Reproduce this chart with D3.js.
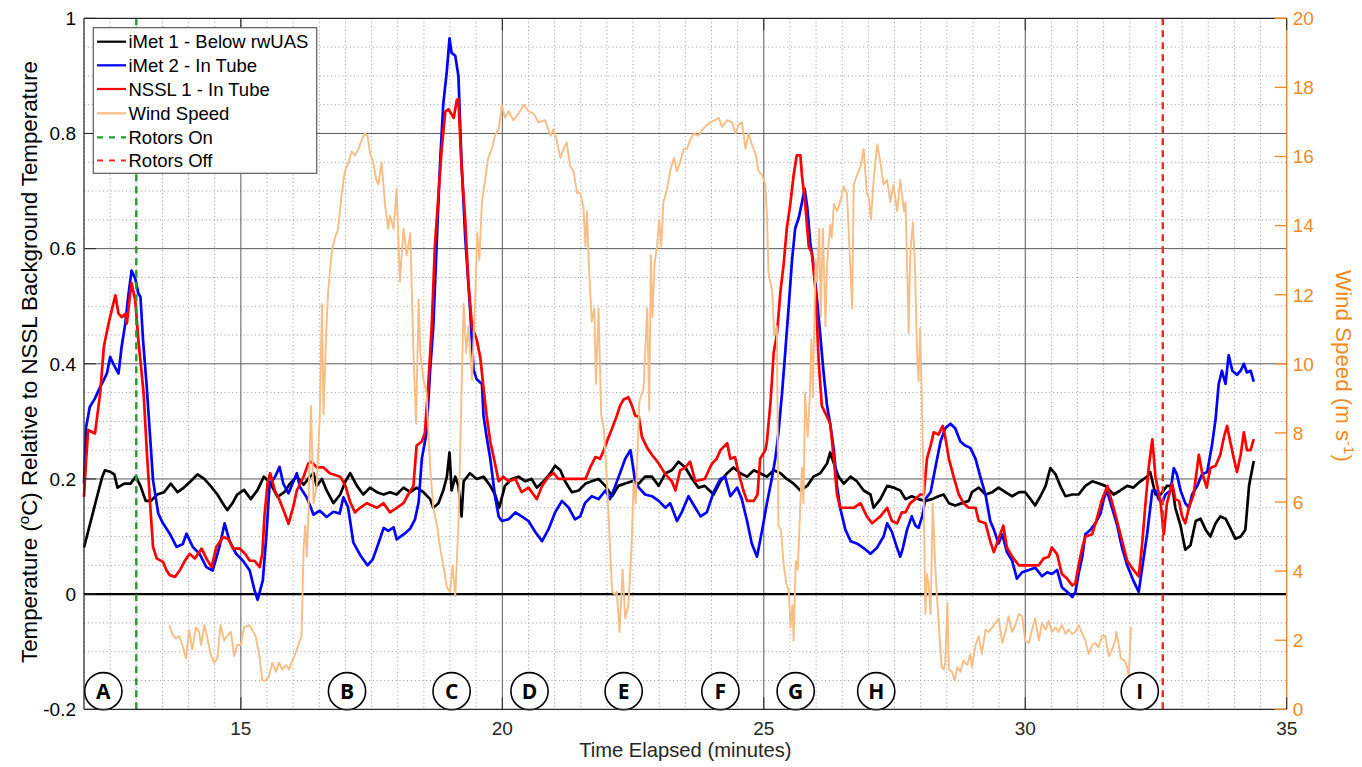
<!DOCTYPE html>
<html><head><meta charset="utf-8">
<script src="https://cdn.jsdelivr.net/npm/d3@7"></script>
<style>body{margin:0;background:#fff;} svg{display:block;}</style>
</head><body><svg id="chart" width="1362" height="767"></svg>
<script>
// ---------------- DATA ----------------
const imet1 = [[12.00,0.081],[12.13,0.127],[12.26,0.173],[12.35,0.204],[12.40,0.215],[12.51,0.212],[12.58,0.208],[12.64,0.185],[12.77,0.192],[12.89,0.192],[12.99,0.204],[13.08,0.188],[13.18,0.162],[13.28,0.162],[13.40,0.173],[13.53,0.177],[13.66,0.192],[13.79,0.177],[13.91,0.185],[14.04,0.196],[14.17,0.208],[14.30,0.2],[14.42,0.188],[14.55,0.173],[14.68,0.154],[14.74,0.146],[14.84,0.158],[14.93,0.173],[15.06,0.181],[15.19,0.165],[15.32,0.181],[15.44,0.204],[15.57,0.192],[15.70,0.169],[15.83,0.177],[15.94,0.192],[16.07,0.204],[16.20,0.19],[16.32,0.204],[16.39,0.21],[16.45,0.188],[16.55,0.2],[16.64,0.18],[16.77,0.158],[16.90,0.173],[17.00,0.196],[17.09,0.21],[17.22,0.188],[17.34,0.173],[17.47,0.185],[17.60,0.177],[17.73,0.173],[17.85,0.177],[17.98,0.173],[18.11,0.185],[18.24,0.177],[18.36,0.185],[18.49,0.177],[18.62,0.165],[18.68,0.15],[18.78,0.158],[18.87,0.18],[18.94,0.204],[18.99,0.246],[19.03,0.18],[19.10,0.204],[19.16,0.188],[19.22,0.135],[19.26,0.196],[19.38,0.21],[19.51,0.2],[19.64,0.204],[19.77,0.188],[19.86,0.173],[19.94,0.15],[20.05,0.188],[20.18,0.2],[20.31,0.204],[20.44,0.196],[20.56,0.2],[20.66,0.185],[20.79,0.196],[20.92,0.21],[21.01,0.223],[21.11,0.215],[21.20,0.196],[21.33,0.177],[21.46,0.18],[21.59,0.192],[21.71,0.196],[21.84,0.2],[21.97,0.188],[22.10,0.17],[22.22,0.188],[22.35,0.192],[22.48,0.196],[22.61,0.192],[22.73,0.204],[22.86,0.204],[22.99,0.188],[23.12,0.21],[23.24,0.215],[23.37,0.23],[23.50,0.22],[23.63,0.2],[23.75,0.185],[23.87,0.188],[24.04,0.173],[24.17,0.196],[24.30,0.21],[24.42,0.22],[24.55,0.21],[24.68,0.204],[24.81,0.215],[24.93,0.21],[25.06,0.204],[25.19,0.215],[25.32,0.21],[25.44,0.2],[25.57,0.192],[25.70,0.18],[25.83,0.188],[25.95,0.204],[26.08,0.21],[26.21,0.227],[26.27,0.246],[26.34,0.227],[26.43,0.204],[26.53,0.192],[26.66,0.204],[26.78,0.196],[26.91,0.18],[27.04,0.173],[27.10,0.15],[27.23,0.165],[27.36,0.188],[27.48,0.185],[27.61,0.18],[27.71,0.165],[27.83,0.17],[27.96,0.165],[28.09,0.162],[28.22,0.165],[28.34,0.17],[28.44,0.173],[28.54,0.158],[28.66,0.154],[28.79,0.158],[28.92,0.162],[28.98,0.177],[29.11,0.185],[29.24,0.173],[29.37,0.177],[29.49,0.185],[29.62,0.177],[29.75,0.17],[29.88,0.177],[30.00,0.177],[30.10,0.165],[30.19,0.154],[30.29,0.17],[30.39,0.188],[30.48,0.219],[30.58,0.208],[30.67,0.188],[30.77,0.17],[30.90,0.173],[31.02,0.173],[31.15,0.188],[31.28,0.196],[31.41,0.192],[31.53,0.188],[31.69,0.173],[31.82,0.18],[31.95,0.188],[32.07,0.185],[32.20,0.196],[32.33,0.204],[32.39,0.212],[32.49,0.173],[32.59,0.173],[32.71,0.188],[32.81,0.188],[32.87,0.15],[32.97,0.119],[33.06,0.077],[33.16,0.085],[33.26,0.127],[33.35,0.131],[33.45,0.112],[33.54,0.1],[33.64,0.123],[33.73,0.135],[33.83,0.131],[33.92,0.115],[34.02,0.096],[34.12,0.1],[34.21,0.112],[34.28,0.188],[34.37,0.231]];

const imet2 = [[12.00,0.192],[12.04,0.29],[12.11,0.325],[12.21,0.34],[12.31,0.36],[12.38,0.372],[12.44,0.384],[12.50,0.412],[12.56,0.40],[12.66,0.383],[12.72,0.43],[12.79,0.47],[12.85,0.52],[12.91,0.562],[12.98,0.548],[13.04,0.522],[13.08,0.516],[13.13,0.44],[13.20,0.36],[13.26,0.279],[13.32,0.198],[13.42,0.14],[13.51,0.123],[13.64,0.105],[13.77,0.082],[13.89,0.087],[13.96,0.105],[14.08,0.082],[14.21,0.07],[14.34,0.047],[14.46,0.041],[14.59,0.082],[14.69,0.123],[14.78,0.093],[14.91,0.07],[15.04,0.058],[15.17,0.041],[15.26,0.007],[15.32,-0.01],[15.42,0.024],[15.49,0.105],[15.55,0.192],[15.65,0.203],[15.74,0.221],[15.81,0.192],[15.91,0.175],[16.07,0.21],[16.13,0.186],[16.26,0.168],[16.39,0.138],[16.51,0.145],[16.64,0.134],[16.77,0.143],[16.89,0.14],[16.96,0.168],[17.05,0.151],[17.15,0.09],[17.28,0.068],[17.42,0.05],[17.52,0.06],[17.63,0.088],[17.73,0.115],[17.82,0.11],[17.92,0.116],[17.98,0.095],[18.13,0.105],[18.24,0.114],[18.33,0.13],[18.40,0.16],[18.46,0.235],[18.55,0.28],[18.62,0.39],[18.68,0.465],[18.75,0.62],[18.81,0.75],[18.87,0.85],[18.94,0.91],[18.99,0.965],[19.03,0.94],[19.10,0.935],[19.16,0.90],[19.22,0.75],[19.29,0.62],[19.38,0.50],[19.45,0.39],[19.51,0.373],[19.61,0.365],[19.64,0.31],[19.70,0.273],[19.77,0.235],[19.86,0.17],[19.93,0.135],[19.99,0.127],[20.12,0.13],[20.25,0.142],[20.37,0.135],[20.50,0.127],[20.63,0.108],[20.76,0.092],[20.88,0.112],[21.01,0.142],[21.14,0.162],[21.27,0.15],[21.39,0.13],[21.49,0.135],[21.58,0.158],[21.71,0.17],[21.84,0.165],[21.97,0.18],[22.06,0.165],[22.16,0.188],[22.25,0.21],[22.35,0.235],[22.45,0.25],[22.49,0.227],[22.54,0.196],[22.61,0.185],[22.73,0.173],[22.86,0.17],[22.99,0.162],[23.12,0.15],[23.21,0.158],[23.34,0.127],[23.43,0.142],[23.56,0.17],[23.69,0.15],[23.79,0.135],[23.91,0.142],[24.04,0.177],[24.17,0.2],[24.26,0.204],[24.36,0.17],[24.49,0.185],[24.58,0.165],[24.68,0.127],[24.77,0.088],[24.87,0.065],[24.97,0.112],[25.06,0.158],[25.16,0.204],[25.22,0.235],[25.28,0.28],[25.35,0.35],[25.41,0.42],[25.48,0.504],[25.54,0.58],[25.60,0.635],[25.67,0.654],[25.73,0.68],[25.78,0.704],[25.83,0.673],[25.89,0.61],[25.95,0.573],[26.02,0.51],[26.08,0.45],[26.14,0.388],[26.21,0.327],[26.27,0.296],[26.34,0.25],[26.40,0.188],[26.46,0.15],[26.56,0.112],[26.66,0.092],[26.78,0.088],[26.91,0.08],[27.04,0.07],[27.16,0.08],[27.29,0.1],[27.36,0.123],[27.45,0.108],[27.55,0.08],[27.61,0.065],[27.66,0.08],[27.74,0.112],[27.83,0.135],[27.90,0.119],[27.96,0.115],[28.03,0.135],[28.09,0.165],[28.19,0.177],[28.28,0.219],[28.38,0.265],[28.47,0.288],[28.57,0.296],[28.66,0.288],[28.76,0.265],[28.85,0.258],[28.95,0.254],[29.05,0.235],[29.14,0.204],[29.24,0.173],[29.33,0.127],[29.40,0.112],[29.49,0.088],[29.56,0.104],[29.65,0.073],[29.75,0.058],[29.84,0.027],[29.94,0.038],[30.07,0.042],[30.19,0.046],[30.32,0.031],[30.42,0.038],[30.51,0.035],[30.61,0.042],[30.70,0.012],[30.80,0.004],[30.90,-0.005],[30.96,0.004],[31.02,0.035],[31.09,0.065],[31.15,0.104],[31.25,0.112],[31.34,0.123],[31.44,0.14],[31.50,0.165],[31.56,0.18],[31.66,0.15],[31.76,0.119],[31.85,0.081],[31.95,0.05],[32.07,0.023],[32.17,0.004],[32.23,0.042],[32.33,0.104],[32.43,0.18],[32.49,0.18],[32.55,0.165],[32.62,0.158],[32.68,0.173],[32.78,0.18],[32.84,0.219],[32.90,0.208],[32.97,0.18],[33.06,0.158],[33.13,0.15],[33.19,0.173],[33.29,0.188],[33.38,0.208],[33.48,0.212],[33.57,0.258],[33.64,0.304],[33.70,0.365],[33.76,0.388],[33.83,0.365],[33.89,0.415],[33.96,0.388],[34.05,0.381],[34.12,0.388],[34.18,0.4],[34.24,0.385],[34.31,0.388],[34.37,0.369]];

const nssl1 = [[12.00,0.169],[12.04,0.233],[12.08,0.285],[12.21,0.279],[12.31,0.349],[12.38,0.43],[12.47,0.47],[12.53,0.493],[12.60,0.519],[12.66,0.487],[12.72,0.481],[12.79,0.487],[12.82,0.47],[12.89,0.528],[12.91,0.54],[12.98,0.51],[13.04,0.441],[13.14,0.349],[13.20,0.25],[13.26,0.163],[13.32,0.082],[13.39,0.062],[13.51,0.056],[13.58,0.041],[13.64,0.033],[13.74,0.03],[13.83,0.041],[13.93,0.058],[14.02,0.07],[14.12,0.062],[14.25,0.079],[14.34,0.062],[14.44,0.047],[14.53,0.082],[14.66,0.099],[14.76,0.096],[14.85,0.079],[14.98,0.079],[15.08,0.07],[15.17,0.058],[15.26,0.058],[15.36,0.047],[15.41,0.07],[15.45,0.134],[15.51,0.192],[15.56,0.21],[15.65,0.18],[15.74,0.163],[15.84,0.14],[15.91,0.122],[16.00,0.151],[16.07,0.18],[16.20,0.204],[16.29,0.227],[16.35,0.23],[16.45,0.22],[16.58,0.22],[16.70,0.21],[16.90,0.204],[17.00,0.188],[17.09,0.16],[17.18,0.142],[17.28,0.15],[17.41,0.158],[17.60,0.15],[17.73,0.158],[17.85,0.142],[17.98,0.15],[18.11,0.158],[18.20,0.173],[18.30,0.188],[18.36,0.258],[18.46,0.265],[18.52,0.28],[18.59,0.373],[18.65,0.465],[18.71,0.604],[18.78,0.696],[18.84,0.773],[18.91,0.838],[18.97,0.842],[19.07,0.827],[19.13,0.858],[19.16,0.86],[19.22,0.742],[19.29,0.65],[19.35,0.542],[19.42,0.465],[19.51,0.442],[19.58,0.41],[19.64,0.358],[19.70,0.31],[19.77,0.265],[19.86,0.227],[19.93,0.196],[20.02,0.204],[20.12,0.196],[20.25,0.2],[20.37,0.177],[20.50,0.185],[20.66,0.165],[20.76,0.188],[20.88,0.204],[20.98,0.21],[21.07,0.2],[21.27,0.2],[21.46,0.2],[21.59,0.2],[21.68,0.22],[21.78,0.238],[21.87,0.235],[21.94,0.25],[22.00,0.265],[22.10,0.288],[22.19,0.31],[22.25,0.327],[22.32,0.338],[22.41,0.342],[22.48,0.327],[22.54,0.31],[22.61,0.308],[22.67,0.273],[22.77,0.254],[22.86,0.242],[22.99,0.227],[23.12,0.208],[23.24,0.196],[23.31,0.18],[23.40,0.215],[23.50,0.22],[23.59,0.23],[23.69,0.196],[23.87,0.2],[24.01,0.227],[24.10,0.235],[24.17,0.25],[24.30,0.262],[24.36,0.235],[24.45,0.238],[24.52,0.21],[24.61,0.18],[24.68,0.162],[24.81,0.162],[24.88,0.173],[24.93,0.235],[25.03,0.25],[25.06,0.265],[25.13,0.335],[25.19,0.42],[25.25,0.45],[25.32,0.527],[25.38,0.573],[25.44,0.635],[25.51,0.68],[25.57,0.727],[25.63,0.762],[25.70,0.762],[25.73,0.727],[25.79,0.68],[25.86,0.604],[25.92,0.592],[25.99,0.527],[26.05,0.404],[26.11,0.327],[26.20,0.31],[26.27,0.296],[26.34,0.235],[26.40,0.173],[26.46,0.15],[26.59,0.15],[26.72,0.15],[26.85,0.158],[26.97,0.135],[27.07,0.123],[27.23,0.135],[27.36,0.15],[27.45,0.127],[27.55,0.123],[27.64,0.142],[27.71,0.142],[27.80,0.158],[27.90,0.165],[27.99,0.173],[28.06,0.173],[28.12,0.235],[28.19,0.258],[28.25,0.281],[28.34,0.277],[28.42,0.292],[28.47,0.273],[28.54,0.235],[28.63,0.204],[28.73,0.173],[28.82,0.158],[28.92,0.15],[29.05,0.15],[29.11,0.127],[29.24,0.123],[29.33,0.092],[29.40,0.073],[29.49,0.096],[29.58,0.119],[29.65,0.081],[29.75,0.065],[29.88,0.05],[30.07,0.05],[30.26,0.05],[30.35,0.062],[30.45,0.065],[30.51,0.081],[30.61,0.069],[30.70,0.035],[30.80,0.027],[30.90,0.015],[30.96,0.019],[31.02,0.05],[31.09,0.081],[31.15,0.1],[31.28,0.104],[31.37,0.131],[31.47,0.165],[31.57,0.188],[31.69,0.15],[31.82,0.104],[31.95,0.058],[32.07,0.042],[32.17,0.031],[32.23,0.081],[32.30,0.158],[32.36,0.219],[32.43,0.269],[32.49,0.204],[32.59,0.158],[32.65,0.104],[32.71,0.158],[32.81,0.192],[32.87,0.165],[32.94,0.162],[33.00,0.135],[33.06,0.123],[33.13,0.15],[33.22,0.173],[33.32,0.242],[33.38,0.212],[33.47,0.185],[33.54,0.219],[33.64,0.223],[33.73,0.242],[33.80,0.273],[33.86,0.292],[33.92,0.265],[33.99,0.235],[34.05,0.212],[34.12,0.242],[34.18,0.281],[34.24,0.25],[34.31,0.25],[34.37,0.269]];

const windSpeed = [[13.63,2.44],[13.69,2.18],[13.75,2.05],[13.82,2.12],[13.88,1.86],[13.95,1.47],[14.01,2.3],[14.07,1.73],[14.14,2.37],[14.20,2.24],[14.24,1.86],[14.30,2.44],[14.36,2.05],[14.42,1.6],[14.49,1.35],[14.55,1.47],[14.61,2.44],[14.68,1.99],[14.74,2.12],[14.81,2.24],[14.87,1.54],[14.93,1.86],[15.00,1.86],[15.06,2.37],[15.16,2.44],[15.22,2.3],[15.28,2.12],[15.35,1.6],[15.41,0.83],[15.48,0.83],[15.54,0.96],[15.60,1.35],[15.67,1.09],[15.73,1.35],[15.79,1.15],[15.86,1.28],[15.92,1.15],[15.98,1.4],[16.04,1.6],[16.10,1.86],[16.16,2.12],[16.20,4.68],[16.23,5.32],[16.26,4.42],[16.29,5.58],[16.34,8.78],[16.39,5.96],[16.45,6.47],[16.51,8.53],[16.55,11.73],[16.58,8.53],[16.63,10.83],[16.67,12.12],[16.74,13.27],[16.80,13.65],[16.86,13.91],[16.93,14.94],[16.99,15.58],[17.06,15.83],[17.12,16.15],[17.18,16.03],[17.25,16.22],[17.31,16.47],[17.37,16.67],[17.42,16.6],[17.47,16.09],[17.53,15.83],[17.59,15.32],[17.63,15.19],[17.69,15.83],[17.76,14.55],[17.82,13.91],[17.85,14.29],[17.92,13.91],[17.98,15.06],[18.04,12.37],[18.11,13.91],[18.17,13.14],[18.24,13.78],[18.30,10.32],[18.35,8.27],[18.40,11.86],[18.43,10.32],[18.49,9.55],[18.55,9.17],[18.62,6.99],[18.68,5.83],[18.75,5.32],[18.81,4.68],[18.87,4.17],[18.94,3.53],[19.00,3.4],[19.05,4.17],[19.10,3.27],[19.16,5.32],[19.21,8.53],[19.26,11.73],[19.31,10.32],[19.35,11.09],[19.42,9.55],[19.48,11.86],[19.52,13.78],[19.56,13.01],[19.61,14.68],[19.67,15.32],[19.73,15.96],[19.80,16.22],[19.86,16.6],[19.93,16.79],[19.99,17.5],[20.05,17.12],[20.12,17.31],[20.21,17.05],[20.31,17.24],[20.41,17.5],[20.50,17.31],[20.60,17.24],[20.69,16.99],[20.82,17.05],[20.92,16.6],[20.98,16.79],[21.04,16.47],[21.11,15.96],[21.17,16.22],[21.23,16.41],[21.30,15.71],[21.36,15.58],[21.43,14.94],[21.49,14.94],[21.55,14.55],[21.59,13.4],[21.62,14.42],[21.65,13.01],[21.71,11.22],[21.76,11.6],[21.79,9.42],[21.84,11.6],[21.89,8.53],[21.94,8.14],[22.00,6.6],[22.04,5.32],[22.10,3.4],[22.15,3.33],[22.19,3.4],[22.24,2.24],[22.30,4.04],[22.35,2.63],[22.41,3.01],[22.47,4.68],[22.51,6.6],[22.55,5.96],[22.62,8.91],[22.70,9.29],[22.77,11.6],[22.81,8.65],[22.84,13.14],[22.87,11.35],[22.91,12.88],[22.96,13.4],[23.00,14.17],[23.04,13.4],[23.08,14.68],[23.15,15.06],[23.21,15.58],[23.28,15.96],[23.34,15.58],[23.40,15.83],[23.47,16.22],[23.53,16.22],[23.59,16.47],[23.66,16.67],[23.75,16.6],[23.84,16.8],[23.92,16.92],[23.98,16.99],[24.07,17.05],[24.14,17.12],[24.20,16.86],[24.30,17.05],[24.39,16.99],[24.46,16.67],[24.52,16.92],[24.58,16.99],[24.65,16.22],[24.71,16.67],[24.77,16.35],[24.84,16.09],[24.90,15.58],[24.97,15.45],[25.03,15.19],[25.06,14.29],[25.09,12.63],[25.16,12.12],[25.20,10.83],[25.25,11.09],[25.28,5.32],[25.33,5.19],[25.38,4.17],[25.43,3.65],[25.48,3.4],[25.51,2.37],[25.55,3.01],[25.57,1.99],[25.61,4.29],[25.65,4.04],[25.70,5.96],[25.73,6.99],[25.76,5.96],[25.79,9.17],[25.84,7.88],[25.88,9.04],[25.91,10.71],[25.94,9.04],[25.99,13.01],[26.02,12.37],[26.06,13.91],[26.09,11.35],[26.13,13.91],[26.18,11.09],[26.21,12.88],[26.27,14.04],[26.30,13.65],[26.34,14.62],[26.40,14.42],[26.46,14.68],[26.53,15.13],[26.59,14.94],[26.69,11.6],[26.72,15.19],[26.78,15.45],[26.85,15.71],[26.91,16.22],[26.97,14.94],[27.01,14.81],[27.05,14.17],[27.10,15.32],[27.17,16.35],[27.23,15.83],[27.29,15.19],[27.36,15.32],[27.42,14.68],[27.48,15.19],[27.55,14.42],[27.61,15.32],[27.68,14.42],[27.71,14.68],[27.74,12.88],[27.77,10.9],[27.80,13.14],[27.85,14.1],[27.89,12.88],[27.93,10.32],[27.96,9.49],[27.99,11.03],[28.03,8.53],[28.06,5.96],[28.09,2.76],[28.12,3.91],[28.15,3.65],[28.19,2.76],[28.23,5.96],[28.27,4.42],[28.31,3.27],[28.34,2.63],[28.40,1.22],[28.44,1.15],[28.47,1.35],[28.51,3.08],[28.54,1.15],[28.60,1.09],[28.65,0.83],[28.70,1.22],[28.76,1.09],[28.82,1.41],[28.89,1.28],[28.95,1.6],[28.98,1.22],[29.05,1.86],[29.11,2.12],[29.17,1.6],[29.24,2.31],[29.30,2.24],[29.37,2.37],[29.43,2.5],[29.49,2.63],[29.56,1.92],[29.62,2.24],[29.68,2.69],[29.75,2.24],[29.81,2.44],[29.88,2.76],[29.94,2.69],[30.00,1.99],[30.07,1.92],[30.13,2.31],[30.19,2.63],[30.26,1.99],[30.32,2.5],[30.39,2.31],[30.45,2.56],[30.51,2.24],[30.58,2.37],[30.64,2.24],[30.70,2.44],[30.77,2.18],[30.83,2.31],[30.90,2.18],[30.96,2.24],[31.02,2.44],[31.09,2.18],[31.15,1.99],[31.21,1.6],[31.28,1.86],[31.34,1.92],[31.40,1.79],[31.47,2.12],[31.53,2.12],[31.60,1.54],[31.66,1.73],[31.72,1.99],[31.74,2.24],[31.79,1.86],[31.83,1.47],[31.90,1.41],[31.95,1.22],[31.98,0.96],[32.02,2.31],[32.04,2.37]];

const rotorsOnTime = 13.0;
const rotorsOffTime = 32.63;
const eventLabels = ["A","B","C","D","E","F","G","H","I"];
const eventTimes = [12.37,17.03,19.03,20.52,22.32,24.17,25.61,27.15,32.19];
const xTickValues = [15,20,25,30,35];
const yTickValues = [-0.2,0,0.2,0.4,0.6,0.8,1];
const yTickLabels = ["-0.2","0","0.2","0.4","0.6","0.8","1"];
const y2TickValues = [0,2,4,6,8,10,12,14,16,18,20];
const legendNames = ["iMet 1 - Below rwUAS","iMet 2 - In Tube","NSSL 1 - In Tube","Wind Speed","Rotors On","Rotors Off"];

// ---------------- CHART ----------------
const FONT = "'Liberation Sans', Arial, Helvetica, sans-serif";
const L = 84, T = 18.3, R = 1286.7, B = 709.3;
const x = d3.scaleLinear().domain([12,35]).range([L,R]);
const y = d3.scaleLinear().domain([-0.2,1]).range([B,T]);
const y2 = d3.scaleLinear().domain([0,20]).range([B,T]);

const ORANGE = "#f08a24";
const WIND = "#f7bd85";
const svg = d3.select("#chart");
svg.append("rect").attr("width",1362).attr("height",767).attr("fill","#fff");

const grid = svg.append("g");
// minor grid
const minorX = d3.range(24, 70).map(i => i/2).filter(v => v % 5 !== 0);
const minorY = d3.range(-4, 21).filter(i => i % 4 !== 0).map(i => i*0.05);
grid.selectAll(".mx").data(minorX).join("line")
  .attr("x1", d=>x(d)).attr("x2", d=>x(d)).attr("y1",T).attr("y2",B)
  .attr("stroke","#a8a8a8").attr("stroke-width",1).attr("stroke-dasharray","1.2,2.6");
grid.selectAll(".my").data(minorY).join("line")
  .attr("x1",L).attr("x2",R).attr("y1", d=>y(d)).attr("y2", d=>y(d))
  .attr("stroke","#a8a8a8").attr("stroke-width",1).attr("stroke-dasharray","1.2,2.6");
// major grid
grid.selectAll(".Mx").data([15,20,25,30]).join("line")
  .attr("x1", d=>x(d)).attr("x2", d=>x(d)).attr("y1",T).attr("y2",B)
  .attr("stroke","#5a5a5a").attr("stroke-width",1);
grid.selectAll(".My").data([0.2,0.4,0.6,0.8]).join("line")
  .attr("x1",L).attr("x2",R).attr("y1", d=>y(d)).attr("y2", d=>y(d))
  .attr("stroke","#5a5a5a").attr("stroke-width",1);
// zero line
svg.append("line").attr("x1",L).attr("x2",R).attr("y1",y(0)).attr("y2",y(0))
  .attr("stroke","#000").attr("stroke-width",2.2);

const line = d3.line().x(d=>x(d[0])).y(d=>y(d[1]));
const line2 = d3.line().x(d=>x(d[0])).y(d=>y2(d[1]));

const series = [
  {data: imet1, color:"#000"},
  {data: imet2, color:"#0000ff"},
  {data: nssl1, color:"#ff0000"}
];
series.forEach(s => {
  svg.append("path").datum(s.data).attr("d", line)
    .attr("fill","none").attr("stroke", s.color).attr("stroke-width",2.7)
    .attr("stroke-linejoin","round");
});
svg.append("path").datum(windSpeed).attr("d", line2)
  .attr("fill","none").attr("stroke", WIND).attr("stroke-width",1.9)
  .attr("stroke-linejoin","round");

// rotor lines
svg.append("line").attr("x1",x(rotorsOnTime)).attr("x2",x(rotorsOnTime)).attr("y1",T).attr("y2",B)
  .attr("stroke","#1e9e2a").attr("stroke-width",2.4).attr("stroke-dasharray","7,5");
svg.append("line").attr("x1",x(rotorsOffTime)).attr("x2",x(rotorsOffTime)).attr("y1",T).attr("y2",B)
  .attr("stroke","#ee2a2a").attr("stroke-width",2.4).attr("stroke-dasharray","7,5");

// event circles
const ev = svg.append("g");
eventLabels.forEach((lab,i) => {
  const cx = x(eventTimes[i]), cy = 691.2;
  ev.append("circle").attr("cx",cx).attr("cy",cy).attr("r",18.6)
    .attr("fill","#fff").attr("stroke","#000").attr("stroke-width",1.6);
  ev.append("text").attr("x",cx).attr("y",cy+7.6).attr("text-anchor","middle")
    .attr("font-family","'Open Sans', 'DejaVu Sans', sans-serif").attr("font-weight","bold")
    .attr("font-size",21).attr("fill","#000").text(lab);
});

// axes box
const ax = svg.append("g");
ax.append("line").attr("x1",L).attr("x2",L).attr("y1",T).attr("y2",B).attr("stroke","#262626").attr("stroke-width",1.2);
ax.append("line").attr("x1",L).attr("x2",R).attr("y1",B).attr("y2",B).attr("stroke","#262626").attr("stroke-width",1.2);
ax.append("line").attr("x1",L).attr("x2",R).attr("y1",T).attr("y2",T).attr("stroke","#262626").attr("stroke-width",1.2);
ax.append("line").attr("x1",R).attr("x2",R).attr("y1",T).attr("y2",B).attr("stroke","#d98a3c").attr("stroke-width",1.4);

// left ticks + labels
yTickValues.forEach((v,i) => {
  ax.append("line").attr("x1",L).attr("x2",L+12).attr("y1",y(v)).attr("y2",y(v)).attr("stroke","#262626");
  ax.append("text").attr("x",L-8).attr("y",y(v)+6.8).attr("text-anchor","end")
    .attr("font-family",FONT).attr("font-size",19).attr("fill","#000").text(yTickLabels[i]);
});
// right ticks + labels
y2TickValues.forEach(v => {
  ax.append("line").attr("x1",R-12).attr("x2",R).attr("y1",y2(v)).attr("y2",y2(v)).attr("stroke",ORANGE).attr("stroke-width",1.3);
  ax.append("text").attr("x",R+6).attr("y",y2(v)+6.8).attr("text-anchor","start")
    .attr("font-family",FONT).attr("font-size",19).attr("fill",ORANGE).text(v);
});
// x ticks + labels
xTickValues.forEach(v => {
  ax.append("line").attr("x1",x(v)).attr("x2",x(v)).attr("y1",B).attr("y2",B-12).attr("stroke","#262626");
  ax.append("line").attr("x1",x(v)).attr("x2",x(v)).attr("y1",T).attr("y2",T+12).attr("stroke","#262626");
  ax.append("text").attr("x",x(v)).attr("y",735).attr("text-anchor","middle")
    .attr("font-family",FONT).attr("font-size",19).attr("fill","#262626").text(v);
});

// axis labels
svg.append("text").attr("x",(L+R)/2).attr("y",757).attr("text-anchor","middle")
  .attr("font-family",FONT).attr("font-size",20.2).attr("fill","#262626").text("Time Elapsed (minutes)");

const yl = svg.append("text").attr("transform","translate(37,362) rotate(-90)")
  .attr("text-anchor","middle").attr("font-family",FONT).attr("font-size",22.3).attr("fill","#000");
yl.append("tspan").text("Temperature (");
yl.append("tspan").attr("dy",-8).attr("font-size",15).text("o");
yl.append("tspan").attr("dy",8).text("C) Relative to NSSL Background Temperature");

const y2l = svg.append("text").attr("transform","translate(1336,366) rotate(90)")
  .attr("text-anchor","middle").attr("font-family",FONT).attr("font-size",22.3).attr("fill",ORANGE);
y2l.append("tspan").text("Wind Speed (m s");
y2l.append("tspan").attr("dy",-8).attr("font-size",15).text("-1");
y2l.append("tspan").attr("dy",8).text(")");

// legend
const lg = svg.append("g");
lg.append("rect").attr("x",93.3).attr("y",27.7).attr("width",223.4).attr("height",145.6)
  .attr("fill","#fff").attr("stroke","#5a5a5a").attr("stroke-width",1.2);
const legStyles = [
  {c:"#000", d:null, w:2.2},{c:"#0000ff", d:null, w:2.2},{c:"#ff0000", d:null, w:2.2},
  {c:WIND, d:null, w:2.2},{c:"#1e9e2a", d:"6,6", w:2.2},{c:"#ee2a2a", d:"6,6", w:2.2}
];
const legY = [41.7,65.3,89,113.3,137.3,160.5];
legendNames.forEach((n,i) => {
  const ln = lg.append("line").attr("x1",97).attr("x2",126).attr("y1",legY[i]).attr("y2",legY[i])
    .attr("stroke",legStyles[i].c).attr("stroke-width",legStyles[i].w);
  if (legStyles[i].d) ln.attr("stroke-dasharray",legStyles[i].d);
  lg.append("text").attr("x",128.5).attr("y",legY[i]+6.5).attr("font-family",FONT)
    .attr("font-size",18.5).attr("fill","#000").text(n);
});
</script></body></html>
